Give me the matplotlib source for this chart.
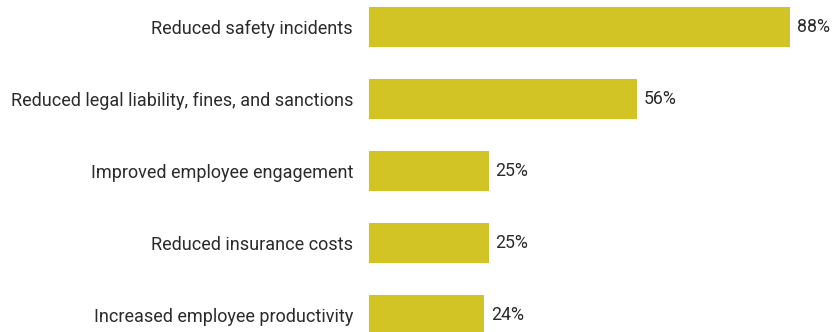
import matplotlib
matplotlib.use("Agg")
import matplotlib.pyplot as plt

categories = [
    "Reduced safety incidents",
    "Reduced legal liability, fines, and sanctions",
    "Improved employee engagement",
    "Reduced insurance costs",
    "Increased employee productivity",
]
values = [88, 56, 25, 25, 24]

plt.rcParams["font.family"] = ["Roboto", "DejaVu Sans"]

bar_color = "#D1C424"
text_color = "#2b2b2b"

fig = plt.figure(figsize=(8.33, 3.32), dpi=100)
ax = fig.add_axes([369 / 833, 0, 478.4 / 833, 1])

ypos = list(range(len(categories)))
ax.barh(ypos, values, height=0.556, color=bar_color)
ax.set_xlim(0, 100)
ax.set_ylim(4 + 17 / 72, -27 / 72)

for y, v in zip(ypos, values):
    ax.annotate(f"{v}%", (v, y), xytext=(5, 0), textcoords="offset points",
                va="center", ha="left", fontsize=12.8, color=text_color)

ax.set_yticks(ypos)
ax.set_yticklabels(categories, fontsize=13, color=text_color)
ax.tick_params(axis="y", length=0, pad=11.5)
ax.set_xticks([])
for s in ax.spines.values():
    s.set_visible(False)

fig.savefig("out.png", dpi=100)
